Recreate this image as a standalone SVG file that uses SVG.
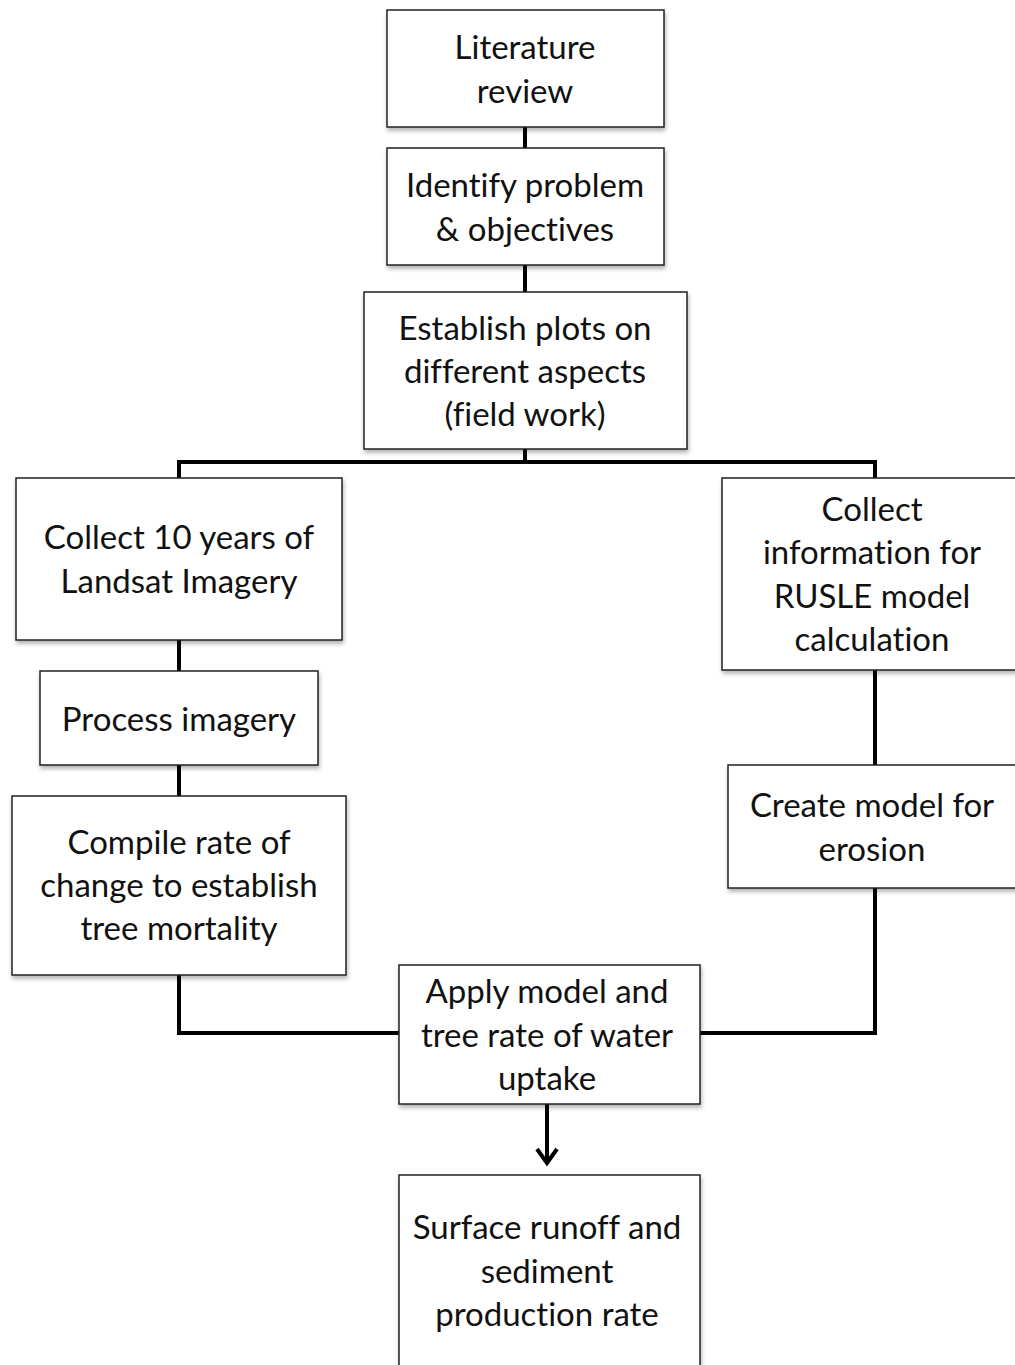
<svg xmlns="http://www.w3.org/2000/svg" width="1015" height="1365" viewBox="0 0 1015 1365">
<style>
.box{fill:#fff;stroke:#222;stroke-width:1.5;filter:url(#sh)}
.t{font-family:Lato,"Liberation Sans",sans-serif;font-size:33px;fill:#111;text-anchor:middle;font-variant-ligatures:none}
.c{fill:none;stroke:#000;stroke-width:4}
</style>
<defs>
<filter id="sh" x="-10%" y="-10%" width="120%" height="130%">
<feDropShadow dx="1" dy="3" stdDeviation="2" flood-color="#000" flood-opacity="0.3"/>
</filter>
</defs>
<rect width="1015" height="1365" fill="#fff"/>
<g id="connectors">
<path class="c" d="M525 127V148M525 265V292M525 449V462M179 478V462H875V478"/>
<path class="c" d="M179 640V671M179 765V796M875 670V765"/>
<path class="c" d="M179 975V1033H399M875 888V1033H700"/>
<path class="c" d="M547 1104V1163"/>
<path class="c" d="M537 1149L547 1163L557 1149"/>
</g>
<g id="n1"><rect class="box" x="387" y="10" width="277" height="117"/><text class="t" x="525" y="59">Literature</text><text class="t" x="525" y="103">review</text></g>
<g id="n2"><rect class="box" x="387" y="148" width="277" height="117"/><text class="t" x="525" y="197">Identify problem</text><text class="t" x="525" y="241">&amp; objectives</text></g>
<g id="n3"><rect class="box" x="364" y="292" width="323" height="157"/><text class="t" x="525" y="340">Establish plots on</text><text class="t" x="525" y="383">different aspects</text><text class="t" x="525" y="426">(field work)</text></g>
<g id="n4"><rect class="box" x="16" y="478" width="326" height="162"/><text class="t" x="179" y="549">Collect 10 years of</text><text class="t" x="179" y="593">Landsat Imagery</text></g>
<g id="n5"><rect class="box" x="40" y="671" width="278" height="94"/><text class="t" x="179" y="731">Process imagery</text></g>
<g id="n6"><rect class="box" x="12" y="796" width="334" height="179"/><text class="t" x="179" y="854">Compile rate of</text><text class="t" x="179" y="897">change to establish</text><text class="t" x="179" y="940">tree mortality</text></g>
<g id="n7"><rect class="box" x="722" y="478" width="310" height="192"/><text class="t" x="872" y="521">Collect</text><text class="t" x="872" y="564">information for</text><text class="t" x="872" y="608">RUSLE model</text><text class="t" x="872" y="651">calculation</text></g>
<g id="n8"><rect class="box" x="728" y="765" width="304" height="123"/><text class="t" x="872" y="817">Create model for</text><text class="t" x="872" y="861">erosion</text></g>
<g id="n9"><rect class="box" x="399" y="965" width="301" height="139"/><text class="t" x="547" y="1003">Apply model and</text><text class="t" x="547" y="1047">tree rate of water</text><text class="t" x="547" y="1090">uptake</text></g>
<g id="n10"><rect class="box" x="399" y="1175" width="301" height="200"/><text class="t" x="547" y="1239">Surface runoff and</text><text class="t" x="547" y="1283">sediment</text><text class="t" x="547" y="1326">production rate</text></g>
</svg>
